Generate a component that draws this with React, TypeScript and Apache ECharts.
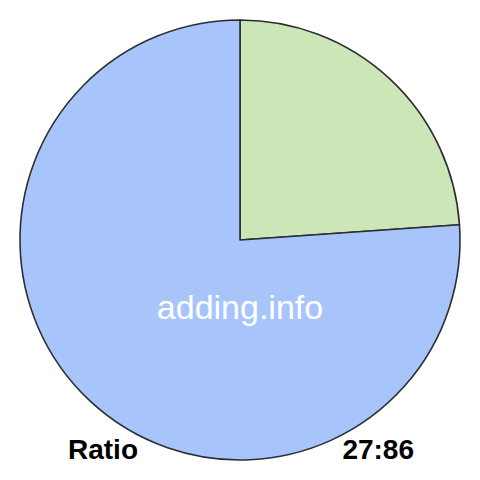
import React, { useEffect, useRef } from 'react'
import * as echarts from 'echarts'

const names = ['first', 'second']
const values = [27, 86]
const colors = ['#cde6b8', '#a7c5fb']
const watermark = 'adding.info'
const footerLeft = 'Ratio'
const footerRight = values.join(':')

export default function App(): JSX.Element {
  const ref = useRef<HTMLDivElement>(null)

  useEffect(() => {
    if (!ref.current) return
    const chart = echarts.init(ref.current, null, { renderer: 'svg' })
    chart.setOption({
      animation: false,
      series: [{
        type: 'pie',
        center: [240, 240],
        radius: 220,
        startAngle: 90,
        clockwise: true,
        silent: true,
        label: { show: false },
        labelLine: { show: false },
        itemStyle: { borderColor: '#2a2e32', borderWidth: 1.6 },
        data: names.map((name, i) => ({
          name,
          value: values[i],
          itemStyle: { color: colors[i] }
        }))
      }],
      graphic: [
        {
          type: 'text',
          z: 100,
          x: 240,
          y: 307,
          style: {
            text: watermark,
            fill: '#ffffff',
            font: '34px "Liberation Sans", Arial, sans-serif',
            align: 'center',
            verticalAlign: 'middle'
          }
        },
        {
          type: 'text',
          z: 100,
          x: 68,
          y: 449,
          style: {
            text: footerLeft,
            fill: '#000000',
            font: 'bold 28px "Liberation Sans", Arial, sans-serif',
            align: 'left',
            verticalAlign: 'middle'
          }
        },
        {
          type: 'text',
          z: 100,
          x: 414,
          y: 449,
          style: {
            text: footerRight,
            fill: '#000000',
            font: 'bold 28px "Liberation Sans", Arial, sans-serif',
            align: 'right',
            verticalAlign: 'middle'
          }
        }
      ]
    })
    return () => chart.dispose()
  }, [])

  return (
    <div
      ref={ref}
      style={{ position: 'absolute', left: 0, top: 0, width: 480, height: 480, background: '#ffffff' }}
    />
  )
}
